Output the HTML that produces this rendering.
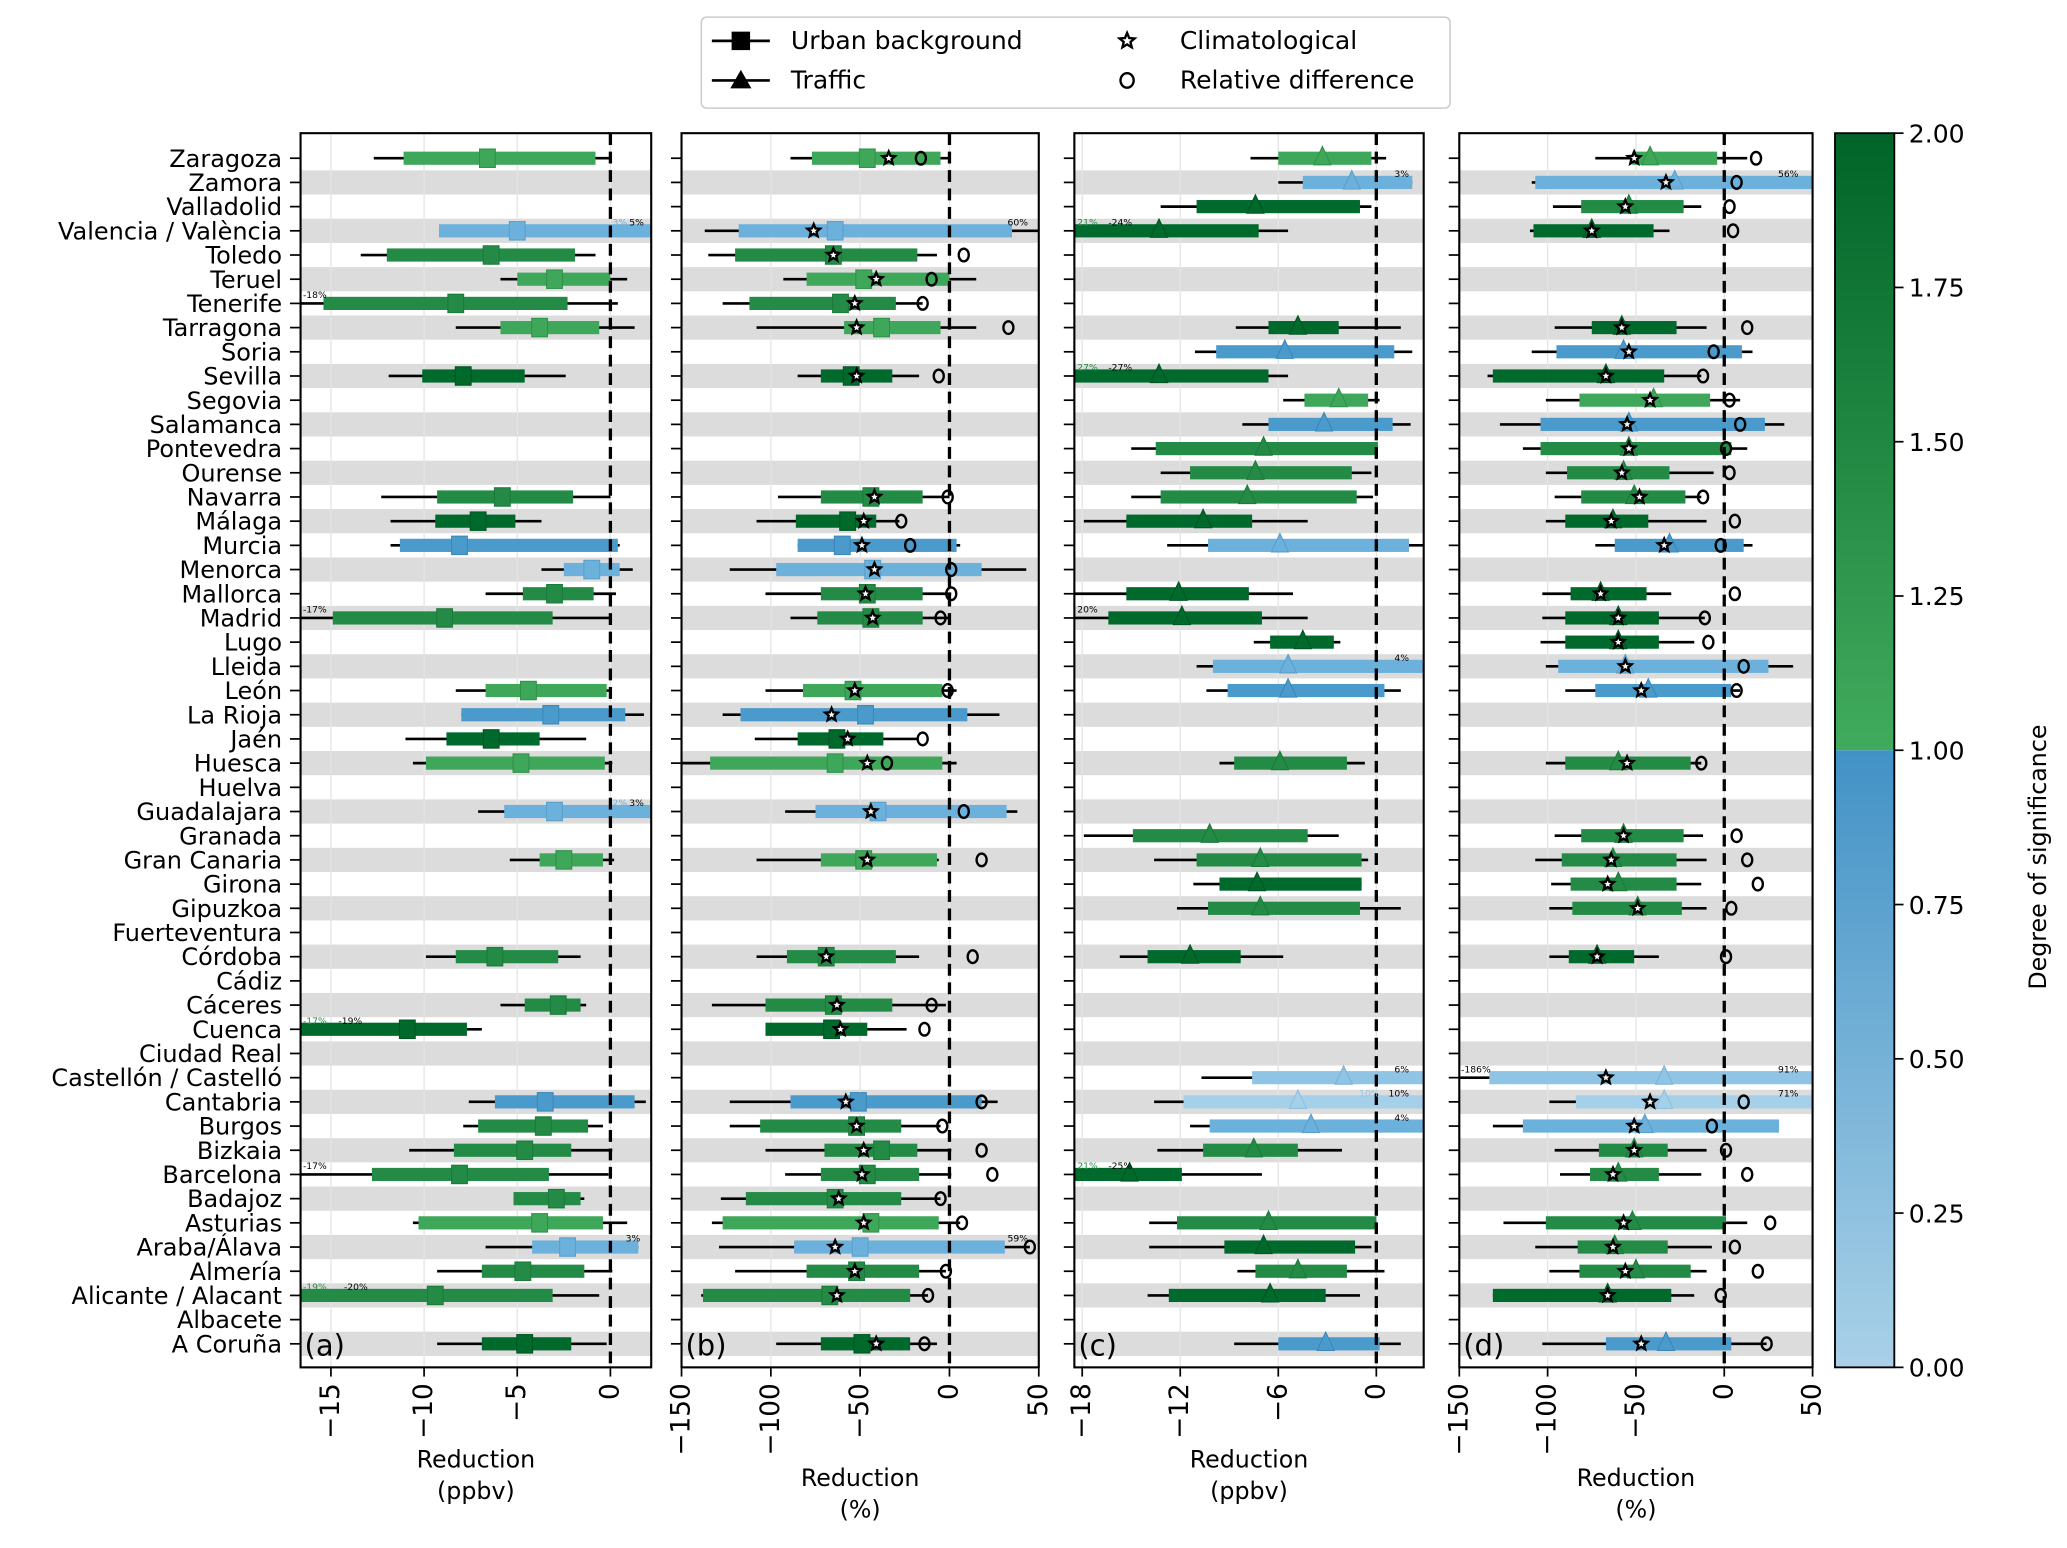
<!DOCTYPE html>
<html><head><meta charset="utf-8"><style>
html,body{margin:0;padding:0;background:#fff;}
svg{display:block;font-family:"DejaVu Sans","Liberation Sans",sans-serif;}
</style></head><body>
<svg id="fig" width="2067" height="1548" viewBox="0 0 1568 1174" preserveAspectRatio="none" xmlns="http://www.w3.org/2000/svg"></svg>
<script>
const cities=["Zaragoza","Zamora","Valladolid","Valencia / València","Toledo","Teruel","Tenerife","Tarragona","Soria","Sevilla","Segovia","Salamanca","Pontevedra","Ourense","Navarra","Málaga","Murcia","Menorca","Mallorca","Madrid","Lugo","Lleida","León","La Rioja","Jaén","Huesca","Huelva","Guadalajara","Granada","Gran Canaria","Girona","Gipuzkoa","Fuerteventura","Córdoba","Cádiz","Cáceres","Cuenca","Ciudad Real","Castellón / Castelló","Cantabria","Burgos","Bizkaia","Barcelona","Badajoz","Asturias","Araba/Álava","Almería","Alicante / Alacant","Albacete","A Coruña"];
// [row, whiskerLow, q1, median, q3, whiskerHigh, level]
const dataA=[[0,-12.7,-11.1,-6.6,-0.8,0,'L'],[3,-9.2,-9.2,-5.0,2.2,2.2,'LB'],[4,-13.4,-12.0,-6.4,-1.9,-0.8,'M'],[5,-5.9,-5.0,-3.0,0,0.9,'L'],[6,-16.6,-15.4,-8.3,-2.3,0.4,'M'],[7,-8.3,-5.9,-3.8,-0.6,1.3,'L'],[9,-11.9,-10.1,-7.9,-4.6,-2.4,'D'],[14,-12.3,-9.3,-5.8,-2.0,0,'M'],[15,-11.8,-9.4,-7.1,-5.1,-3.7,'D'],[16,-11.8,-11.3,-8.1,0.4,0.5,'B'],[17,-3.7,-2.5,-1.0,0.5,1.2,'LB'],[18,-6.7,-4.7,-3.0,-0.9,0.3,'M'],[19,-16.6,-14.9,-8.9,-3.1,0,'M'],[22,-8.3,-6.7,-4.4,-0.2,0,'L'],[23,-8.0,-8.0,-3.2,0.8,1.8,'B'],[24,-11.0,-8.8,-6.4,-3.8,-1.3,'D'],[25,-10.6,-9.9,-4.8,-0.3,0.1,'L'],[27,-7.1,-5.7,-3.0,2.2,2.2,'LB'],[29,-5.4,-3.8,-2.5,-0.4,0.2,'L'],[33,-9.9,-8.3,-6.2,-2.8,-1.6,'M'],[35,-5.9,-4.6,-2.8,-1.6,-1.3,'M'],[36,-16.6,-16.6,-10.9,-7.7,-6.9,'D'],[39,-7.6,-6.2,-3.5,1.3,1.9,'B'],[40,-7.9,-7.1,-3.6,-1.2,-0.4,'M'],[41,-10.8,-8.4,-4.6,-2.1,0.1,'M'],[42,-16.6,-12.8,-8.1,-3.3,-0.1,'M'],[43,-5.2,-5.2,-2.9,-1.6,-1.4,'M'],[44,-10.6,-10.3,-3.8,-0.4,0.9,'L'],[45,-6.7,-4.2,-2.3,1.5,1.5,'LB'],[46,-9.3,-6.9,-4.7,-1.4,0.1,'M'],[47,-16.6,-16.6,-9.4,-3.1,-0.6,'M'],[49,-9.3,-6.9,-4.6,-2.1,-0.2,'D']];
// [row, wlo, q1, med, q3, whi, star, circle, level]
const dataB=[[0,-89,-77,-46,-5,0,-34,-16,'L'],[3,-137,-118,-64,35,50,-76,null,'LB'],[4,-135,-120,-65,-18,-7,-65,8,'M'],[5,-93,-80,-48,0,15,-41,-10,'L'],[6,-127,-112,-61,-30,-15,-53,-15,'M'],[7,-108,-59,-38,-5,15,-52,33,'L'],[9,-85,-72,-55,-32,-17,-52,-6,'D'],[14,-96,-72,-44,-15,0,-42,-1,'M'],[15,-108,-86,-57,-41,-28,-48,-27,'D'],[16,-85,-85,-60,4,6,-49,-22,'B'],[17,-123,-97,-43,18,43,-42,1,'LB'],[18,-103,-72,-46,-15,1,-47,1,'M'],[19,-89,-74,-44,-15,0,-43,-5,'M'],[22,-103,-82,-54,-4,4,-53,-1,'L'],[23,-127,-117,-47,10,28,-66,null,'B'],[24,-109,-85,-63,-37,-18,-57,-15,'D'],[25,-150,-134,-64,-4,4,-46,-35,'L'],[27,-92,-75,-40,32,38,-44,8,'LB'],[29,-108,-72,-48,-7,-6,-46,18,'L'],[33,-108,-91,-69,-30,-17,-69,13,'M'],[35,-133,-103,-65,-32,-2,-63,-10,'M'],[36,-103,-103,-66,-46,-24,-61,-14,'D'],[39,-123,-89,-51,18,27,-58,18,'B'],[40,-123,-106,-52,-27,-5,-52,-4,'M'],[41,-103,-70,-38,-18,1,-48,18,'M'],[42,-92,-72,-46,-17,1,-49,24,'M'],[43,-128,-114,-64,-27,-5,-62,-5,'M'],[44,-133,-127,-44,-6,6,-48,7,'L'],[45,-129,-87,-50,31,45,-64,45,'LB'],[46,-120,-80,-52,-17,-2,-53,-2,'M'],[47,-139,-138,-67,-22,-12,-63,-12,'M'],[49,-97,-72,-49,-22,-7,-41,-14,'D']];
const dataC=[[0,-7.7,-6.0,-3.3,-0.3,0.6,'L'],[1,-6.0,-4.5,-1.5,2.2,2.2,'LB'],[2,-13.2,-11.0,-7.4,-1.0,-0.3,'D'],[3,-18.5,-18.5,-13.3,-7.2,-5.4,'D'],[7,-8.6,-6.6,-4.8,-2.3,1.5,'D'],[8,-11.1,-9.8,-5.6,1.1,2.2,'B'],[9,-18.5,-18.5,-13.3,-6.6,-5.4,'D'],[10,-5.7,-4.4,-2.3,-0.5,0.2,'L'],[11,-8.2,-6.6,-3.2,1.0,2.1,'B'],[12,-15.0,-13.5,-6.9,0.1,0.1,'M'],[13,-13.2,-11.4,-7.4,-1.5,-0.3,'M'],[14,-15.0,-13.2,-7.9,-1.2,-0.2,'M'],[15,-17.9,-15.3,-10.6,-7.6,-4.2,'D'],[16,-12.8,-10.3,-5.9,2.0,2.9,'LB'],[18,-18.5,-15.3,-12.1,-7.8,-5.1,'D'],[19,-18.5,-16.4,-11.9,-7.0,-4.2,'D'],[20,-7.5,-6.5,-4.5,-2.6,-2.2,'D'],[21,-11.0,-10.0,-5.4,2.9,2.9,'LB'],[22,-10.4,-9.1,-5.4,0.5,1.5,'B'],[25,-9.6,-8.7,-5.9,-1.8,-0.7,'M'],[28,-17.9,-14.9,-10.2,-4.2,-2.3,'M'],[29,-13.6,-11.0,-7.1,-0.9,-0.5,'M'],[30,-11.2,-9.6,-7.3,-0.9,-0.9,'D'],[31,-12.2,-10.3,-7.1,-1.0,1.5,'M'],[33,-15.7,-14.0,-11.4,-8.3,-5.7,'D'],[38,-10.7,-7.6,-2.0,2.9,2.9,'VB'],[39,-13.6,-11.8,-4.8,2.9,2.9,'VB2'],[40,-11.4,-10.2,-4.0,2.9,2.9,'LB'],[41,-13.4,-10.6,-7.5,-4.8,-2.1,'M'],[42,-18.5,-18.5,-15.1,-11.9,-7.0,'D'],[44,-13.9,-12.2,-6.6,0,0,'M'],[45,-13.9,-9.3,-6.9,-1.3,-0.3,'D'],[46,-8.5,-7.4,-4.8,-1.8,0.5,'M'],[47,-14.0,-12.7,-6.5,-3.1,-1.0,'D'],[49,-8.7,-6.0,-3.1,0.2,1.5,'B']];
const dataD=[[0,-73,-52,-42,-4,13,-51,18,'L'],[1,-109,-107,-28,50,50,-33,7,'LB'],[2,-97,-81,-54,-23,-13,-56,3,'M'],[3,-110,-108,-75,-40,-31,-75,5,'D'],[7,-96,-75,-58,-27,-10,-58,13,'D'],[8,-109,-95,-57,10,16,-54,-6,'B'],[9,-134,-131,-67,-34,-13,-67,-12,'D'],[10,-101,-82,-40,-8,9,-42,3,'L'],[11,-127,-104,-54,23,34,-55,9,'B'],[12,-114,-104,-54,4,13,-54,1,'M'],[13,-101,-89,-57,-31,-6,-58,3,'M'],[14,-96,-81,-51,-22,-13,-48,-12,'M'],[15,-101,-90,-63,-43,-10,-64,6,'D'],[16,-73,-62,-31,11,16,-34,-2,'B'],[18,-103,-87,-70,-44,-30,-70,6,'D'],[19,-103,-90,-60,-37,-11,-60,-11,'D'],[20,-104,-90,-60,-37,-17,-60,-9,'D'],[21,-101,-94,-56,25,39,-56,11,'LB'],[22,-90,-73,-43,4,9,-47,7,'B'],[25,-101,-90,-60,-19,-13,-55,-13,'M'],[28,-96,-81,-57,-23,-12,-57,7,'M'],[29,-107,-92,-63,-27,-10,-64,13,'M'],[30,-98,-87,-60,-27,-13,-66,19,'M'],[31,-99,-86,-49,-24,-10,-49,4,'M'],[33,-99,-88,-72,-51,-37,-72,1,'D'],[38,-150,-133,-34,50,50,-67,null,'VB'],[39,-99,-84,-34,50,50,-42,11,'VB2'],[40,-131,-114,-45,31,31,-51,-7,'LB'],[41,-96,-71,-51,-32,-10,-51,1,'M'],[42,-93,-76,-60,-37,-13,-63,13,'M'],[44,-125,-101,-52,1,13,-57,26,'M'],[45,-107,-83,-62,-32,-7,-63,6,'M'],[46,-99,-82,-50,-19,-10,-56,19,'M'],[47,-131,-131,-66,-30,-17,-66,-2,'D'],[49,-103,-67,-33,4,24,-47,24,'B']];
// annotations [row, value, text, colorKey]
const notesA=[[3,0.9,'3%','LB'],[3,1.8,'5%','K'],[6,-16.5,'-18%','K'],[19,-16.5,'-17%','K'],[27,0.9,'2%','LB'],[27,1.8,'3%','K'],[36,-16.5,'-17%','M'],[36,-14.6,'-19%','K'],[42,-16.5,'-17%','K'],[45,1.6,'3%','K'],[47,-16.5,'-19%','M'],[47,-14.3,'-20%','K']];
const notesB=[[3,44,'60%','K'],[45,44,'59%','K']];
const notesC=[[1,2.0,'3%','K'],[3,-18.3,'21%','M'],[3,-16.4,'-24%','K'],[9,-18.3,'27%','M'],[9,-16.4,'-27%','K'],[19,-18.3,'20%','K'],[21,2.0,'4%','K'],[38,2.0,'6%','K'],[39,0.2,'10%','VB'],[39,2.0,'10%','K'],[40,2.0,'4%','K'],[42,-18.3,'21%','M'],[42,-16.4,'-25%','K']];
const notesD=[[1,42,'56%','K'],[38,-149,'-186%','K'],[38,42,'91%','K'],[39,42,'71%','K']];
const ticksA=[-15,-10,-5,0], ticksB=[-150,-100,-50,0,50], ticksC=[-18,-12,-6,0], ticksD=[-150,-100,-50,0,50];
const cbTicks=["0.00","0.25","0.50","0.75","1.00","1.25","1.50","1.75","2.00"];

const COL={D:'#00692c',M:'#238b45',L:'#3fa75a',B:'#4a9acc',LB:'#6cb0dc',VB:'#8fc4e4',VB2:'#a5d0ea',K:'#000'};
const EDGE={D:'#005522',M:'#1c7a3a',L:'#2f9148',B:'#3a87bb',LB:'#5a9fcc',VB:'#7ab2d6',VB2:'#8fc0df',K:'#000'};
const svg=document.getElementById('fig');
const NS='http://www.w3.org/2000/svg';
function el(tag,attrs,parent){const e=document.createElementNS(NS,tag);for(const k in attrs)e.setAttribute(k,attrs[k]);(parent||svg).appendChild(e);return e;}
const RS=18.35;
const rowY=i=>120+i*RS;
const TOP=101,BOT=1037;
const panels=[
 {id:'a',x0:228,x1:494,dom:[-16.63,2.19],data:dataA,notes:notesA,ticks:ticksA,marker:'sq',ext:false,lab:['Reduction','(ppbv)'],labY:1113},
 {id:'b',x0:517,x1:788,dom:[-150,50],data:dataB,notes:notesB,ticks:ticksB,marker:'sq',ext:true,lab:['Reduction','(%)'],labY:1127},
 {id:'c',x0:815,x1:1080,dom:[-18.48,2.9],data:dataC,notes:notesC,ticks:ticksC,marker:'tri',ext:false,lab:['Reduction','(ppbv)'],labY:1113},
 {id:'d',x0:1107,x1:1375,dom:[-150,50],data:dataD,notes:notesD,ticks:ticksD,marker:'tri',ext:true,lab:['Reduction','(%)'],labY:1127}
];
const defs=el('defs',{});
panels.forEach(p=>{const cp=el('clipPath',{id:'clip-'+p.id},defs);el('rect',{x:p.x0,y:TOP,width:p.x1-p.x0,height:BOT-TOP},cp);});

function starPath(cx,cy,r){let d='';for(let k=0;k<10;k++){const a=-Math.PI/2+k*Math.PI/5;const rr=k%2?r*0.45:r;d+=(k?'L':'M')+(cx+rr*Math.cos(a)).toFixed(2)+' '+(cy+rr*Math.sin(a)).toFixed(2);}return d+'Z';}

panels.forEach(p=>{
 const sx=v=>p.x0+(v-p.dom[0])/(p.dom[1]-p.dom[0])*(p.x1-p.x0);
 const g=el('g',{});
 
 
 for(let i=1;i<cities.length;i+=2){
  const b=el('rect',{x:p.x0,y:rowY(i)-RS/2,width:p.x1-p.x0,height:RS,fill:'#dcdcdc'},g);
  
  
 }
 p.ticks.forEach(t=>{
  const gl=el('line',{x1:sx(t),x2:sx(t),y1:TOP,y2:BOT,stroke:'#e4e4e4','stroke-width':1},g);
  
  
 });
 const cg=el('g',{'clip-path':'url(#clip-'+p.id+')'},g);
 p.data.forEach(r=>{
  const row=r[0],y=rowY(row);
  const lvl=p.ext?r[8]:r[6];
  const w=el('line',{x1:sx(r[1]),x2:sx(r[5]),y1:y,y2:y,stroke:'#000','stroke-width':2},cg);
  
  
  const bx=el('rect',{x:sx(r[2]),y:y-5,width:Math.max(0,sx(r[4])-sx(r[2])),height:10,fill:COL[lvl]},cg);
  
  
  const mx=sx(r[3]);
  let m;
  if(p.marker==='sq'){m=el('rect',{x:mx-6,y:y-7,width:12,height:14,fill:COL[lvl],stroke:EDGE[lvl],'stroke-width':0.8},cg);}
  else{m=el('path',{d:`M${mx} ${y-9}L${mx+6.5} ${y+5}L${mx-6.5} ${y+5}Z`,fill:COL[lvl],stroke:EDGE[lvl],'stroke-width':0.8},cg);}
  
  
 });
 const z=el('line',{x1:sx(0),x2:sx(0),y1:TOP,y2:BOT,stroke:'#000','stroke-width':2.5,'stroke-dasharray':'9,5'},g);
 
 
 if(p.ext){p.data.forEach(r=>{
  const y=rowY(r[0]);
  const s=el('path',{d:starPath(sx(r[6]),y,5),fill:'#fff',stroke:'#000','stroke-width':1.8},cg);
  
  
  if(r[7]!==null){
   const c=el('ellipse',{cx:sx(r[7]),cy:y,rx:3.8,ry:4.8,fill:'none',stroke:'#000','stroke-width':1.8},g);
   
   
  }
 });}
 p.notes.forEach(n=>{
  const t=el('text',{x:sx(n[1]),y:rowY(n[0])-4,'font-size':7,fill:COL[n[3]],'text-anchor':n[1]>0?'end':'start'},g);
  t.textContent=n[2];
  
  
 });
 const fr=el('rect',{x:p.x0,y:TOP,width:p.x1-p.x0,height:BOT-TOP,fill:'none',stroke:'#000','stroke-width':1.6},g);
 
 
 cities.forEach((c,i)=>{
  el('line',{x1:p.x0-8,x2:p.x0,y1:rowY(i),y2:rowY(i),stroke:'#000','stroke-width':1.3},g);
 });
 p.ticks.forEach(t=>{
  el('line',{x1:sx(t),x2:sx(t),y1:BOT,y2:BOT+7,stroke:'#000','stroke-width':1.3},g);
  const tl=el('text',{x:sx(t),y:BOT+12,'font-size':20,'text-anchor':'end','dominant-baseline':'central',transform:`rotate(-90 ${sx(t)} ${BOT+12})`},g);
  tl.textContent=String(t).replace('-','\u2212');
  
  
 });
 const cx=(p.x0+p.x1)/2;
 const l1=el('text',{x:cx,y:p.labY,'font-size':18,'text-anchor':'middle'},g);
 l1.textContent=p.lab[0];
 
 
 const l2=el('text',{x:cx,y:p.labY+24,'font-size':18,'text-anchor':'middle'},g);
 l2.textContent=p.lab[1];
 
 
 const pl=el('text',{x:p.x0+3,y:1028,'font-size':22},g);
 pl.textContent='('+p.id+')';
 
 
});
cities.forEach((c,i)=>{
 const t=el('text',{x:214,y:rowY(i)+6.5,'font-size':18.2,'text-anchor':'end'});
 t.textContent=c;
 
 
});
const grad=el('linearGradient',{id:'gGreen',x1:0,y1:0,x2:0,y2:1},defs);
el('stop',{offset:0,'stop-color':'#006428'},grad);el('stop',{offset:1,'stop-color':'#41ab5d'},grad);
const grad2=el('linearGradient',{id:'gBlue',x1:0,y1:0,x2:0,y2:1},defs);
el('stop',{offset:0,'stop-color':'#4292c6'},grad2);el('stop',{offset:1,'stop-color':'#a9d1e8'},grad2);
const cb=el('g',{});


const mid=(TOP+BOT)/2;
el('rect',{x:1392,y:TOP,width:45,height:mid-TOP,fill:'url(#gGreen)'},cb);
el('rect',{x:1392,y:mid,width:45,height:BOT-mid,fill:'url(#gBlue)'},cb);
el('rect',{x:1392,y:TOP,width:45,height:BOT-TOP,fill:'none',stroke:'#000','stroke-width':1.4},cb);
cbTicks.forEach((t,k)=>{
 const y=BOT-k*(BOT-TOP)/8;
 el('line',{x1:1437,x2:1444,y1:y,y2:y,stroke:'#000','stroke-width':1.3},cb);
 const tt=el('text',{x:1448,y:y+7,'font-size':19},cb);
 tt.textContent=t;
 
 
});
const ct=el('text',{x:1552,y:650,'font-size':18,'text-anchor':'middle',transform:'rotate(-90 1552 650)'},cb);
ct.textContent='Degree of significance';


const lg=el('g',{});


el('rect',{x:532,y:13,width:568,height:69,rx:4,fill:'#fff',stroke:'#ccc','stroke-width':1.2},lg);
el('line',{x1:540,x2:584,y1:31,y2:31,stroke:'#000','stroke-width':2},lg);
el('rect',{x:555,y:24,width:14,height:14,fill:'#000'},lg);
el('line',{x1:540,x2:584,y1:61,y2:61,stroke:'#000','stroke-width':2},lg);
el('path',{d:'M562 53L570 67L554 67Z',fill:'#000'},lg);
el('path',{d:starPath(855,31,6),fill:'#fff',stroke:'#000','stroke-width':1.8},lg);
el('ellipse',{cx:855,cy:61,rx:5,ry:5.5,fill:'none',stroke:'#000','stroke-width':1.8},lg);
[['Urban background',600,37],['Traffic',600,67],['Climatological',895,37],['Relative difference',895,67]].forEach(a=>{
 const t=el('text',{x:a[1],y:a[2],'font-size':19},lg);
 t.textContent=a[0];
 
 
});
</script>
</body></html>
